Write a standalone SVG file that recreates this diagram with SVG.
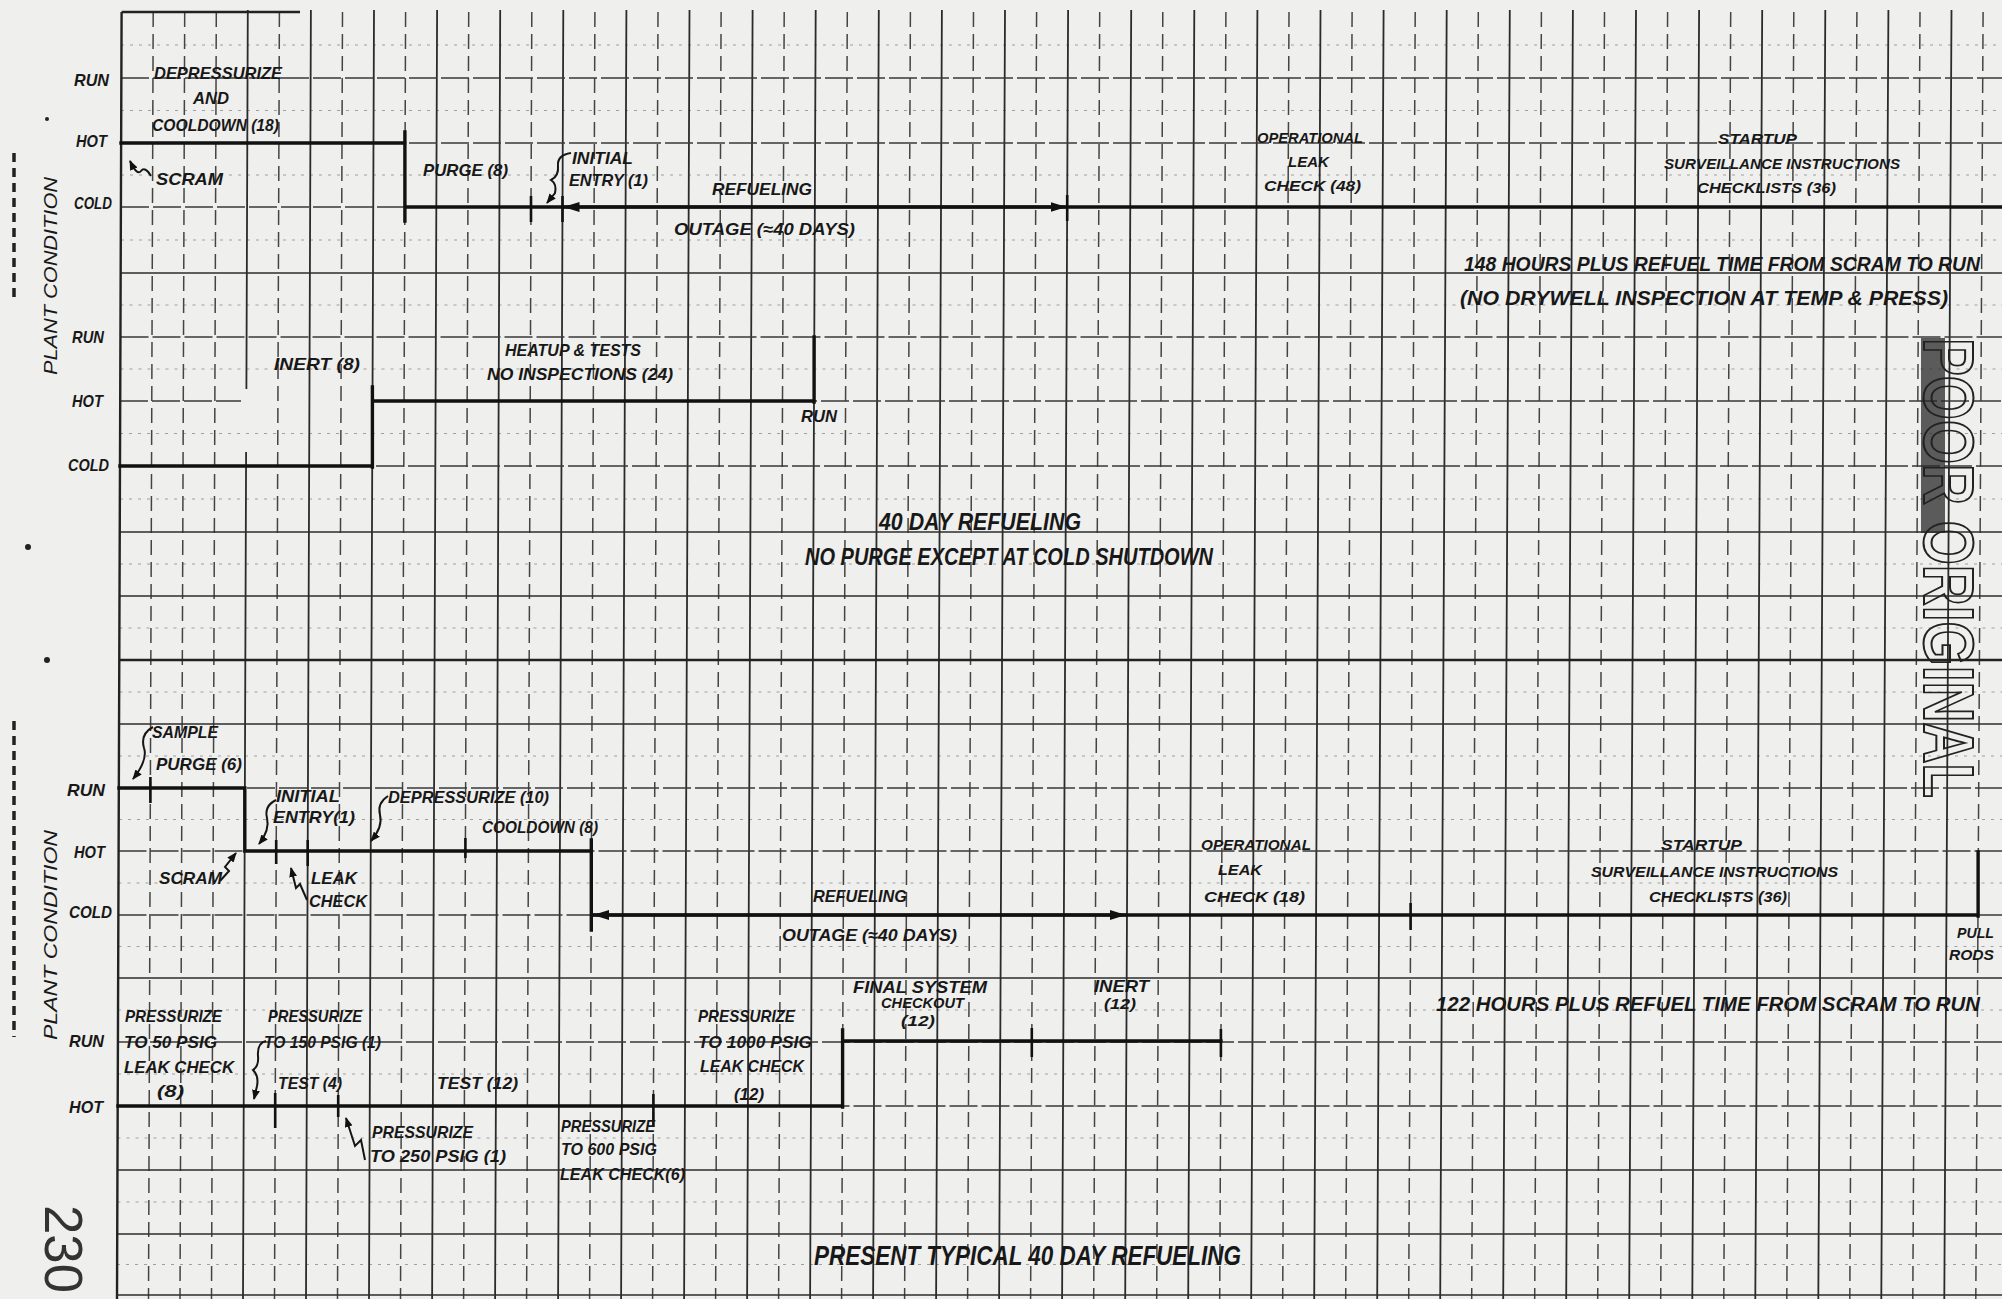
<svg xmlns="http://www.w3.org/2000/svg" width="2002" height="1299" viewBox="0 0 2002 1299">
<defs>
<style>
.g1{stroke:#2b2b2b;stroke-width:1.8;fill:none}
.g2{stroke:#444;stroke-width:1.5;stroke-dasharray:15 7;fill:none}
.hd{stroke:#3a3a3a;stroke-width:1.6;stroke-dasharray:28 4;fill:none}
.hs{stroke:#2e2e2e;stroke-width:1.7;fill:none}
.h2{stroke:#a0a0a0;stroke-width:1.1;stroke-dasharray:3 6;fill:none}
.tr{stroke:#111;stroke-width:3.4;fill:none;stroke-linecap:square}
.tk{stroke:#111;stroke-width:2.6;fill:none}
.sq{stroke:#151515;stroke-width:2;fill:none}
text{font-family:"Liberation Sans",Arial,sans-serif;font-style:italic;font-weight:bold;fill:#181818}
.a{font-size:17px}
.b{font-size:15px}
.c{font-size:20px}
.d{font-size:23px}
.e{font-size:28px}
.v{font-size:19px;font-weight:normal}
.n{font-size:54px;font-weight:normal;font-style:normal;fill:#333}
.st{font-size:70px;font-style:normal;fill:none;stroke:#222;stroke-width:2}
</style>
<marker id="big" viewBox="0 0 16 10" refX="16" refY="5" markerWidth="16" markerHeight="10" markerUnits="userSpaceOnUse" orient="auto-start-reverse"><path d="M0,0 L16,5 L0,10 z" fill="#111"/></marker>
<marker id="sm" viewBox="0 0 10 8" refX="9" refY="4" markerWidth="10" markerHeight="8" markerUnits="userSpaceOnUse" orient="auto"><path d="M0,0 L10,4 L0,8 z" fill="#111"/></marker>
</defs>
<rect x="0" y="0" width="2002" height="1299" fill="#efefed"/>

<g id="grid">
<path class="h2" d="M121,45 H2002 M121,110.5 H2002 M121,175 H2002 M121,240 H2002 M120.5,305 H2002 M120.5,369 H2002 M120,433.5 H2002 M120,499 H2002 M120,564 H2002 M119.5,628 H2002 M119.5,692 H2002 M119,756 H2002 M119,819.5 H2002 M118.5,883 H2002 M118.5,946.5 H2002 M118,1010 H2002 M118,1074 H2002 M117.5,1138 H2002 M117.5,1202 H2002 M117,1264.5 H2002"/>
<path class="g2" d="M153.2,12 L148.5,1299 M184.7,12 L180.0,1299 M216.3,12 L211.5,1299 M279.4,12 L274.5,1299 M342.5,12 L337.5,1299 M405.6,12 L400.5,1299 M468.7,12 L463.6,1299 M531.8,12 L526.6,1299 M594.9,12 L589.6,1299 M658.0,12 L652.6,1299 M721.1,12 L715.6,1299 M784.2,12 L778.6,1299 M847.3,12 L841.6,1299 M910.4,12 L904.6,1299 M973.5,12 L967.6,1299 M1036.6,12 L1030.6,1299 M1099.7,12 L1093.7,1299 M1162.8,12 L1156.7,1299 M1225.9,12 L1219.7,1299 M1289.0,12 L1282.7,1299 M1352.1,12 L1345.7,1299 M1415.2,12 L1408.7,1299 M1478.3,12 L1471.7,1299 M1541.4,12 L1534.7,1299 M1604.5,12 L1597.7,1299 M1667.6,12 L1660.7,1299 M1730.7,12 L1723.8,1299 M1793.8,12 L1786.8,1299 M1856.9,12 L1849.8,1299 M1920.0,12 L1912.8,1299 M1983.1,12 L1975.8,1299"/>
<path class="g1" d="M247.8,10 L246.4,389 M246.1,452 L243.0,1299 M310.9,10 L306.0,1299 M374.0,10 L369.0,1299 M437.1,10 L432.1,1299 M500.2,10 L495.1,1299 M563.3,10 L558.1,1299 M626.4,10 L621.1,1299 M689.5,10 L684.1,1299 M752.6,10 L747.1,1299 M815.7,10 L810.1,1299 M878.8,10 L873.1,1299 M941.9,10 L936.1,1299 M1005.0,10 L999.1,1299 M1068.1,10 L1062.1,1299 M1131.2,10 L1125.2,1299 M1194.3,10 L1188.2,1299 M1257.4,10 L1251.2,1299 M1320.5,10 L1314.2,1299 M1383.6,10 L1377.2,1299 M1446.7,10 L1440.2,1299 M1509.8,10 L1503.2,1299 M1572.9,10 L1566.2,1299 M1636.0,10 L1629.2,1299 M1699.1,10 L1692.3,1299 M1762.2,10 L1755.3,1299 M1825.3,10 L1818.3,1299 M1888.4,10 L1881.3,1299 M1951.5,10 L1944.3,1299"/>
<path class="hd" d="M121,78 H2002 M121,143 H2002 M121,207 H2002 M120.5,337 H2002 M120,401 H241 M373,401 H2002 M120,466 H2002 M119,788 H2002 M118.5,851 H2002 M118.5,915 H2002 M118,1042 H2002 M117.5,1106 H2002"/>
<path class="hs" d="M120.5,273 H2002 M120,532 H2002 M119.5,596 H2002 M119,724 H2002 M118,978 H2002 M117.5,1170 H2002 M117,1234 H2002 M117,1295 H2002"/>
<path d="M119.5,660 H2002" stroke="#222" stroke-width="2.4" fill="none"/>
<path d="M121.6,12 H300 M121.6,12 L117.0,1299" stroke="#222" stroke-width="2.4" fill="none"/>
</g>

<g id="margin-marks">
<path d="M14,153 V300 M14,721 V1037" stroke="#222" stroke-width="3.5" stroke-dasharray="9 6" fill="none"/>
<circle cx="47" cy="660" r="3" fill="#222"/>
<circle cx="28" cy="547" r="3" fill="#222"/>
<circle cx="47" cy="119" r="2" fill="#222"/>
</g>

<g id="connectors">
<path class="tr" d="M121,143 H405 M404.9,132 V221 M404.9,207 H2002"/>
<path class="tk" d="M531,196 V222 M562.5,196 V222 M1067.2,195 V221"/>
<path d="M563.5,207 H1066.5" stroke="#111" stroke-width="3" fill="none" marker-start="url(#big)" marker-end="url(#big)"/>
<path class="tr" d="M120,466 H372.4 M372.4,387 V467 M372.4,401 H814.1 M814.1,337 V402"/>
<path class="tr" d="M119,788 H244.8 M244.8,788 V851 M244.8,851 H591.3 M591.3,840 V930 M591.3,915 H1978.1 M1978.1,852 V916"/>
<path class="tk" d="M150.4,777 V803 M276.2,840 V864 M307.7,840 V866 M465.4,838 V858 M1410.6,903 V930"/>
<path d="M593,915 H1126" stroke="#111" stroke-width="3" fill="none" marker-start="url(#big)" marker-end="url(#big)"/>
<path class="tr" d="M118,1106 H842.6 M842.6,1030 V1107 M842.6,1041 H1220.9"/>
<path class="tk" d="M1031.8,1028 V1057 M1220.9,1029 V1057 M275.2,1093 V1128 M338.2,1095 V1117 M653.4,1094 V1127"/>
<path class="sq" marker-end="url(#sm)" d="M151,176 Q145,166 141,171 Q137,176 130,161"/>
<path class="sq" marker-end="url(#sm)" d="M571,153 Q557,155 558,166 Q559,176 551,180 Q557,184 555,193 L547,203"/>
<path class="sq" marker-end="url(#sm)" d="M153,727 Q140,734 144,748 Q148,760 133,779"/>
<path class="sq" marker-end="url(#sm)" d="M276,800 Q264,806 267,818 Q270,830 259,844"/>
<path class="sq" marker-end="url(#sm)" d="M388,796 Q377,803 380,815 Q383,827 371,841"/>
<path class="sq" marker-end="url(#sm)" d="M220,881 L229,871 L225,867 L236,853"/>
<path class="sq" marker-end="url(#sm)" d="M307,900 L300,884 L296,888 L291,868"/>
<path class="sq" marker-end="url(#sm)" d="M266,1041 Q257,1043 258,1056 Q259,1066 253,1070 Q259,1076 257,1086 L254,1099"/>
<path class="sq" marker-end="url(#sm)" d="M365,1160 L361,1140 L355,1146 L346,1118"/>
</g>

<g id="axis-top">
<text class="v" transform="translate(57,375) rotate(-90)" textLength="198" lengthAdjust="spacingAndGlyphs">PLANT CONDITION</text>
<text class="a" x="74" y="86" textLength="35" lengthAdjust="spacingAndGlyphs">RUN</text>
<text class="a" x="76" y="147" textLength="31" lengthAdjust="spacingAndGlyphs">HOT</text>
<text class="a" x="74" y="209" textLength="38" lengthAdjust="spacingAndGlyphs">COLD</text>
<text class="a" x="72" y="343" textLength="32" lengthAdjust="spacingAndGlyphs">RUN</text>
<text class="a" x="72" y="407" textLength="31" lengthAdjust="spacingAndGlyphs">HOT</text>
<text class="a" x="68" y="471" textLength="41" lengthAdjust="spacingAndGlyphs">COLD</text>
</g>

<g id="n-depressurize-cooldown">
<text class="a" x="154" y="79" textLength="128" lengthAdjust="spacingAndGlyphs">DEPRESSURIZE</text>
<text class="a" x="193" y="104" textLength="36" lengthAdjust="spacingAndGlyphs">AND</text>
<text class="a" x="152" y="131" textLength="127" lengthAdjust="spacingAndGlyphs">COOLDOWN (18)</text>
</g>
<g id="n-scram-1"><text class="a" x="156" y="185" textLength="67" lengthAdjust="spacingAndGlyphs">SCRAM</text></g>
<g id="n-purge-1"><text class="a" x="423" y="176" textLength="85" lengthAdjust="spacingAndGlyphs">PURGE (8)</text></g>
<g id="n-initial-entry-1">
<text class="a" x="572" y="164" textLength="61" lengthAdjust="spacingAndGlyphs">INITIAL</text>
<text class="a" x="569" y="186" textLength="79" lengthAdjust="spacingAndGlyphs">ENTRY (1)</text>
</g>
<g id="n-refueling-1">
<text class="a" x="712" y="195" textLength="100" lengthAdjust="spacingAndGlyphs">REFUELING</text>
<text class="a" x="674" y="235" textLength="181" lengthAdjust="spacingAndGlyphs">OUTAGE (≈40 DAYS)</text>
</g>
<g id="n-leak-check-1">
<text class="b" x="1257" y="143" textLength="106" lengthAdjust="spacingAndGlyphs">OPERATIONAL</text>
<text class="b" x="1288" y="167" textLength="41" lengthAdjust="spacingAndGlyphs">LEAK</text>
<text class="b" x="1264" y="191" textLength="97" lengthAdjust="spacingAndGlyphs">CHECK (48)</text>
</g>
<g id="n-startup-1">
<text class="b" x="1718" y="144" textLength="79" lengthAdjust="spacingAndGlyphs">STARTUP</text>
<text class="b" x="1664" y="169" textLength="236" lengthAdjust="spacingAndGlyphs">SURVEILLANCE INSTRUCTIONS</text>
<text class="b" x="1697" y="193" textLength="139" lengthAdjust="spacingAndGlyphs">CHECKLISTS (36)</text>
</g>
<g id="n-note-148">
<text x="1464" y="271" style="font-size:19.3px" textLength="516" lengthAdjust="spacingAndGlyphs">148 HOURS PLUS REFUEL TIME FROM SCRAM TO RUN</text>
<text x="1460" y="305" style="font-size:20.8px" textLength="488" lengthAdjust="spacingAndGlyphs">(NO DRYWELL INSPECTION AT TEMP &amp; PRESS)</text>
</g>
<g id="n-inert-1"><text class="a" x="274" y="370" textLength="86" lengthAdjust="spacingAndGlyphs">INERT (8)</text></g>
<g id="n-heatup">
<text class="a" x="505" y="356" textLength="136" lengthAdjust="spacingAndGlyphs">HEATUP &amp; TESTS</text>
<text class="a" x="487" y="380" textLength="186" lengthAdjust="spacingAndGlyphs">NO INSPECTIONS (24)</text>
</g>
<g id="n-run-1"><text class="a" x="801" y="422" textLength="36" lengthAdjust="spacingAndGlyphs">RUN</text></g>
<g id="n-title-40day">
<text class="d" x="879" y="530" textLength="202" lengthAdjust="spacingAndGlyphs">40 DAY REFUELING</text>
<text class="d" x="805" y="565" textLength="408" lengthAdjust="spacingAndGlyphs">NO PURGE EXCEPT AT COLD SHUTDOWN</text>
</g>

<g id="axis-bottom">
<text class="v" transform="translate(57,1040) rotate(-90)" textLength="210" lengthAdjust="spacingAndGlyphs">PLANT CONDITION</text>
<text class="a" x="67" y="796" textLength="38" lengthAdjust="spacingAndGlyphs">RUN</text>
<text class="a" x="74" y="858" textLength="31" lengthAdjust="spacingAndGlyphs">HOT</text>
<text class="a" x="69" y="918" textLength="43" lengthAdjust="spacingAndGlyphs">COLD</text>
<text class="a" x="69" y="1047" textLength="35" lengthAdjust="spacingAndGlyphs">RUN</text>
<text class="a" x="69" y="1113" textLength="34" lengthAdjust="spacingAndGlyphs">HOT</text>
</g>
<g id="n-sample-purge">
<text class="a" x="152" y="738" textLength="66" lengthAdjust="spacingAndGlyphs">SAMPLE</text>
<text class="a" x="156" y="770" textLength="86" lengthAdjust="spacingAndGlyphs">PURGE (6)</text>
</g>
<g id="n-initial-entry-2">
<text class="a" x="276" y="802" textLength="64" lengthAdjust="spacingAndGlyphs">INITIAL</text>
<text class="a" x="273" y="823" textLength="82" lengthAdjust="spacingAndGlyphs">ENTRY(1)</text>
</g>
<g id="n-depressurize-2"><text class="a" x="388" y="803" textLength="161" lengthAdjust="spacingAndGlyphs">DEPRESSURIZE (10)</text></g>
<g id="n-cooldown-2"><text class="a" x="482" y="833" textLength="116" lengthAdjust="spacingAndGlyphs">COOLDOWN (8)</text></g>
<g id="n-scram-2"><text class="a" x="159" y="884" textLength="63" lengthAdjust="spacingAndGlyphs">SCRAM</text></g>
<g id="n-leak-check-a">
<text class="a" x="311" y="884" textLength="46" lengthAdjust="spacingAndGlyphs">LEAK</text>
<text class="a" x="309" y="907" textLength="58" lengthAdjust="spacingAndGlyphs">CHECK</text>
</g>
<g id="n-refueling-2">
<text class="a" x="813" y="902" textLength="94" lengthAdjust="spacingAndGlyphs">REFUELING</text>
<text class="a" x="782" y="941" textLength="175" lengthAdjust="spacingAndGlyphs">OUTAGE (≈40 DAYS)</text>
</g>
<g id="n-leak-check-2">
<text class="b" x="1201" y="850" textLength="110" lengthAdjust="spacingAndGlyphs">OPERATIONAL</text>
<text class="b" x="1218" y="875" textLength="44" lengthAdjust="spacingAndGlyphs">LEAK</text>
<text class="b" x="1204" y="902" textLength="101" lengthAdjust="spacingAndGlyphs">CHECK (18)</text>
</g>
<g id="n-startup-2">
<text class="b" x="1661" y="850" textLength="81" lengthAdjust="spacingAndGlyphs">STARTUP</text>
<text class="b" x="1591" y="877" textLength="247" lengthAdjust="spacingAndGlyphs">SURVEILLANCE INSTRUCTIONS</text>
<text class="b" x="1649" y="902" textLength="138" lengthAdjust="spacingAndGlyphs">CHECKLISTS (36)</text>
</g>
<g id="n-pull-rods">
<text class="b" x="1957" y="938" textLength="37" lengthAdjust="spacingAndGlyphs">PULL</text>
<text class="b" x="1949" y="960" textLength="45" lengthAdjust="spacingAndGlyphs">RODS</text>
</g>
<g id="n-note-122"><text x="1436" y="1011" style="font-size:20.3px" textLength="544" lengthAdjust="spacingAndGlyphs">122 HOURS PLUS REFUEL TIME FROM SCRAM TO RUN</text></g>
<g id="n-press-50">
<text class="a" x="125" y="1022" textLength="97" lengthAdjust="spacingAndGlyphs">PRESSURIZE</text>
<text class="a" x="124" y="1048" textLength="93" lengthAdjust="spacingAndGlyphs">TO 50 PSIG</text>
<text class="a" x="124" y="1073" textLength="110" lengthAdjust="spacingAndGlyphs">LEAK CHECK</text>
<text class="a" x="157" y="1097" textLength="27" lengthAdjust="spacingAndGlyphs">(8)</text>
</g>
<g id="n-press-150">
<text class="a" x="268" y="1022" textLength="94" lengthAdjust="spacingAndGlyphs">PRESSURIZE</text>
<text class="a" x="264" y="1048" textLength="117" lengthAdjust="spacingAndGlyphs">TO 150 PSIG (1)</text>
</g>
<g id="n-test-4"><text class="a" x="278" y="1089" textLength="64" lengthAdjust="spacingAndGlyphs">TEST (4)</text></g>
<g id="n-test-12"><text class="a" x="437" y="1089" textLength="81" lengthAdjust="spacingAndGlyphs">TEST (12)</text></g>
<g id="n-press-250">
<text class="a" x="372" y="1138" textLength="101" lengthAdjust="spacingAndGlyphs">PRESSURIZE</text>
<text class="a" x="370" y="1162" textLength="136" lengthAdjust="spacingAndGlyphs">TO 250 PSIG (1)</text>
</g>
<g id="n-press-600">
<text class="a" x="561" y="1132" textLength="94" lengthAdjust="spacingAndGlyphs">PRESSURIZE</text>
<text class="a" x="561" y="1155" textLength="96" lengthAdjust="spacingAndGlyphs">TO 600 PSIG</text>
<text class="a" x="560" y="1180" textLength="125" lengthAdjust="spacingAndGlyphs">LEAK CHECK(6)</text>
</g>
<g id="n-press-1000">
<text class="a" x="698" y="1022" textLength="97" lengthAdjust="spacingAndGlyphs">PRESSURIZE</text>
<text class="a" x="698" y="1048" textLength="114" lengthAdjust="spacingAndGlyphs">TO 1000 PSIG</text>
<text class="a" x="700" y="1072" textLength="104" lengthAdjust="spacingAndGlyphs">LEAK CHECK</text>
<text class="a" x="734" y="1100" textLength="30" lengthAdjust="spacingAndGlyphs">(12)</text>
</g>
<g id="n-final-checkout">
<text class="a" x="853" y="993" textLength="134" lengthAdjust="spacingAndGlyphs">FINAL SYSTEM</text>
<text class="b" x="881" y="1008" textLength="83" lengthAdjust="spacingAndGlyphs">CHECKOUT</text>
<text class="b" x="901" y="1026" textLength="34" lengthAdjust="spacingAndGlyphs">(12)</text>
</g>
<g id="n-inert-2">
<text class="a" x="1094" y="992" textLength="55" lengthAdjust="spacingAndGlyphs">INERT</text>
<text class="b" x="1104" y="1009" textLength="32" lengthAdjust="spacingAndGlyphs">(12)</text>
</g>
<g id="n-title-present"><text class="e" x="814" y="1265" textLength="427" lengthAdjust="spacingAndGlyphs">PRESENT TYPICAL 40 DAY REFUELING</text></g>

<g id="stamp">
<rect x="1921" y="338" width="24" height="195" fill="#2a2a2a" opacity="0.75"/>
<text class="st" transform="translate(1924,338) rotate(90)" textLength="460" lengthAdjust="spacingAndGlyphs">POOR ORIGINAL</text>
</g>
<g id="page-number"><text class="n" transform="translate(45,1205) rotate(90)" textLength="88" lengthAdjust="spacingAndGlyphs">230</text></g>
</svg>
